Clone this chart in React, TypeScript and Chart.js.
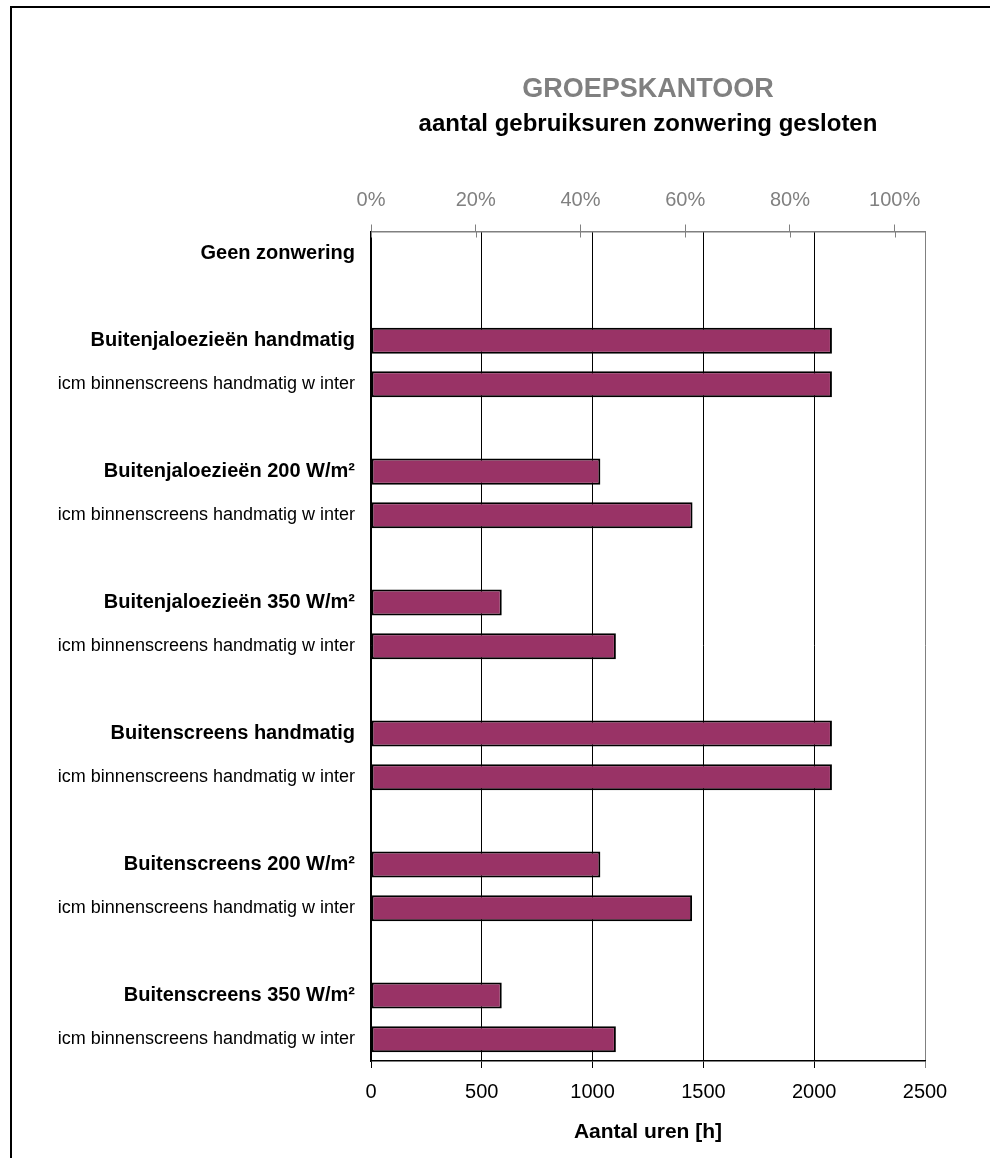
import { useEffect, useRef } from 'react';
import { Chart, registerables } from 'chart.js';

Chart.register(...registerables);

const FONT = '"Liberation Sans", Arial, Helvetica, sans-serif';

// Row labels of the horizontal bar chart (empty strings are spacer rows)
const categories: string[] = [
  'Geen zonwering',
  '',
  'Buitenjaloezieën handmatig',
  'icm binnenscreens handmatig w inter',
  '',
  'Buitenjaloezieën 200 W/m²',
  'icm binnenscreens handmatig w inter',
  '',
  'Buitenjaloezieën 350 W/m²',
  'icm binnenscreens handmatig w inter',
  '',
  'Buitenscreens handmatig',
  'icm binnenscreens handmatig w inter',
  '',
  'Buitenscreens 200 W/m²',
  'icm binnenscreens handmatig w inter',
  '',
  'Buitenscreens 350 W/m²',
  'icm binnenscreens handmatig w inter',
];

// Hours of use with the sun shading closed
const hoursClosed: (number | null)[] = [
  0, null,
  2080, 2080, null,
  1035, 1451, null,
  590, 1105, null,
  2080, 2080, null,
  1035, 1449, null,
  590, 1105,
];

// Bottom axis (hours) and top axis (share of all hours of use)
const hourTicksStep = 500;
const hourMax = 2500;
const totalUseHours = 2363;
const percentTicks = [0, 20, 40, 60, 80, 100];

export default function App() {
  const canvasRef = useRef<HTMLCanvasElement | null>(null);

  useEffect(() => {
    const canvas = canvasRef.current;
    if (!canvas) return;

    const isHeader = (i: number) => !(categories[i] || '').startsWith('icm');

    // Tick marks of the percentage axis cross the axis line
    const crossTicks = {
      id: 'crossTicks',
      afterDraw(c: any) {
        const s = c.scales.pct;
        if (!s) return;
        const ctx = c.ctx;
        ctx.save();
        ctx.strokeStyle = '#808080';
        ctx.lineWidth = 1;
        s.ticks.forEach((t: any) => {
          const x = Math.round(s.getPixelForValue(t.value)) + 0.5;
          ctx.beginPath();
          ctx.moveTo(x, s.bottom);
          ctx.lineTo(x, s.bottom + 6);
          ctx.stroke();
        });
        ctx.restore();
      },
    };

    const chart = new Chart(canvas, {
      type: 'bar',
      data: {
        labels: categories,
        datasets: [
          {
            data: hoursClosed,
            backgroundColor: '#993366',
            borderColor: '#000000',
            borderWidth: 2,
            borderSkipped: false,
            barPercentage: 0.596,
            categoryPercentage: 1,
            xAxisID: 'x',
            yAxisID: 'y',
          },
        ],
      },
      options: {
        indexAxis: 'y',
        responsive: false,
        animation: false,
        devicePixelRatio: 1,
        layout: { padding: { left: 0, right: 65, top: 0, bottom: 12.7 } },
        plugins: {
          legend: { display: false },
          tooltip: { enabled: false },
          title: {
            display: true,
            text: 'GROEPSKANTOOR',
            color: '#808080',
            fullSize: false,
            font: { family: FONT, size: 27, weight: 'bold', lineHeight: 1 },
            padding: { top: 76.5, bottom: -2 },
          },
          subtitle: {
            display: true,
            text: 'aantal gebruiksuren zonwering gesloten',
            color: '#000000',
            fullSize: false,
            font: { family: FONT, size: 24, weight: 'bold', lineHeight: 1 },
            padding: { top: 10.5, bottom: 0 },
          },
        },
        scales: {
          x: {
            type: 'linear',
            position: 'bottom',
            min: 0,
            max: hourMax,
            afterFit: (s: any) => {
              s.height = 84.3;
            },
            ticks: {
              stepSize: hourTicksStep,
              color: '#000000',
              padding: 12,
              font: { family: FONT, size: 20 },
              callback: (v: any) => String(v),
            },
            grid: {
              color: (ctx: any) => (ctx.tick && ctx.tick.value === hourMax ? '#808080' : '#000000'),
              tickColor: (ctx: any) => (ctx.tick && ctx.tick.value === hourMax ? '#808080' : '#000000'),
              lineWidth: 1,
              tickLength: 7,
            },
            border: { display: true, color: '#000000', width: 1.5 },
            title: {
              display: true,
              text: 'Aantal uren [h]',
              color: '#000000',
              font: { family: FONT, size: 21, weight: 'bold', lineHeight: 1.2 },
              padding: { top: 0, bottom: 0 },
            },
          },
          pct: {
            type: 'linear',
            position: 'top',
            min: 0,
            max: (100 * hourMax) / totalUseHours,
            afterBuildTicks: (s: any) => {
              s.ticks = percentTicks.map((v) => ({ value: v }));
            },
            afterFit: (s: any) => {
              s.height = 95.5;
            },
            ticks: {
              color: '#808080',
              padding: 12,
              font: { family: FONT, size: 20 },
              callback: (v: any) => `${v}%`,
            },
            grid: {
              drawOnChartArea: false,
              drawTicks: true,
              tickLength: 7,
              color: '#808080',
              tickColor: '#808080',
            },
            border: { display: true, color: '#808080', width: 1.5 },
          },
          y: {
            type: 'category',
            position: 'left',
            offset: true,
            afterFit: (s: any) => {
              s.width = 371;
            },
            grid: { display: false },
            border: { display: true, color: '#000000', width: 1.5 },
            ticks: {
              color: '#000000',
              padding: 8,
              autoSkip: false,
              font: (ctx: any) => ({
                family: FONT,
                size: isHeader(ctx.index) ? 20 : 18,
                weight: isHeader(ctx.index) ? 'bold' : 'normal',
              }),
            },
          },
        },
      } as any,
      plugins: [crossTicks],
    });

    return () => chart.destroy();
  }, []);

  return (
    <div style={{ position: 'fixed', inset: 0, overflow: 'hidden', background: '#ffffff' }}>
      <div
        style={{
          position: 'absolute',
          left: 10,
          top: 6,
          width: 2000,
          height: 2000,
          borderLeft: '2px solid #000000',
          borderTop: '2px solid #000000',
        }}
      />
      <canvas
        ref={canvasRef}
        width={990}
        height={1158}
        style={{ position: 'absolute', left: 0, top: 0, width: 990, height: 1158 }}
      />
    </div>
  );
}
